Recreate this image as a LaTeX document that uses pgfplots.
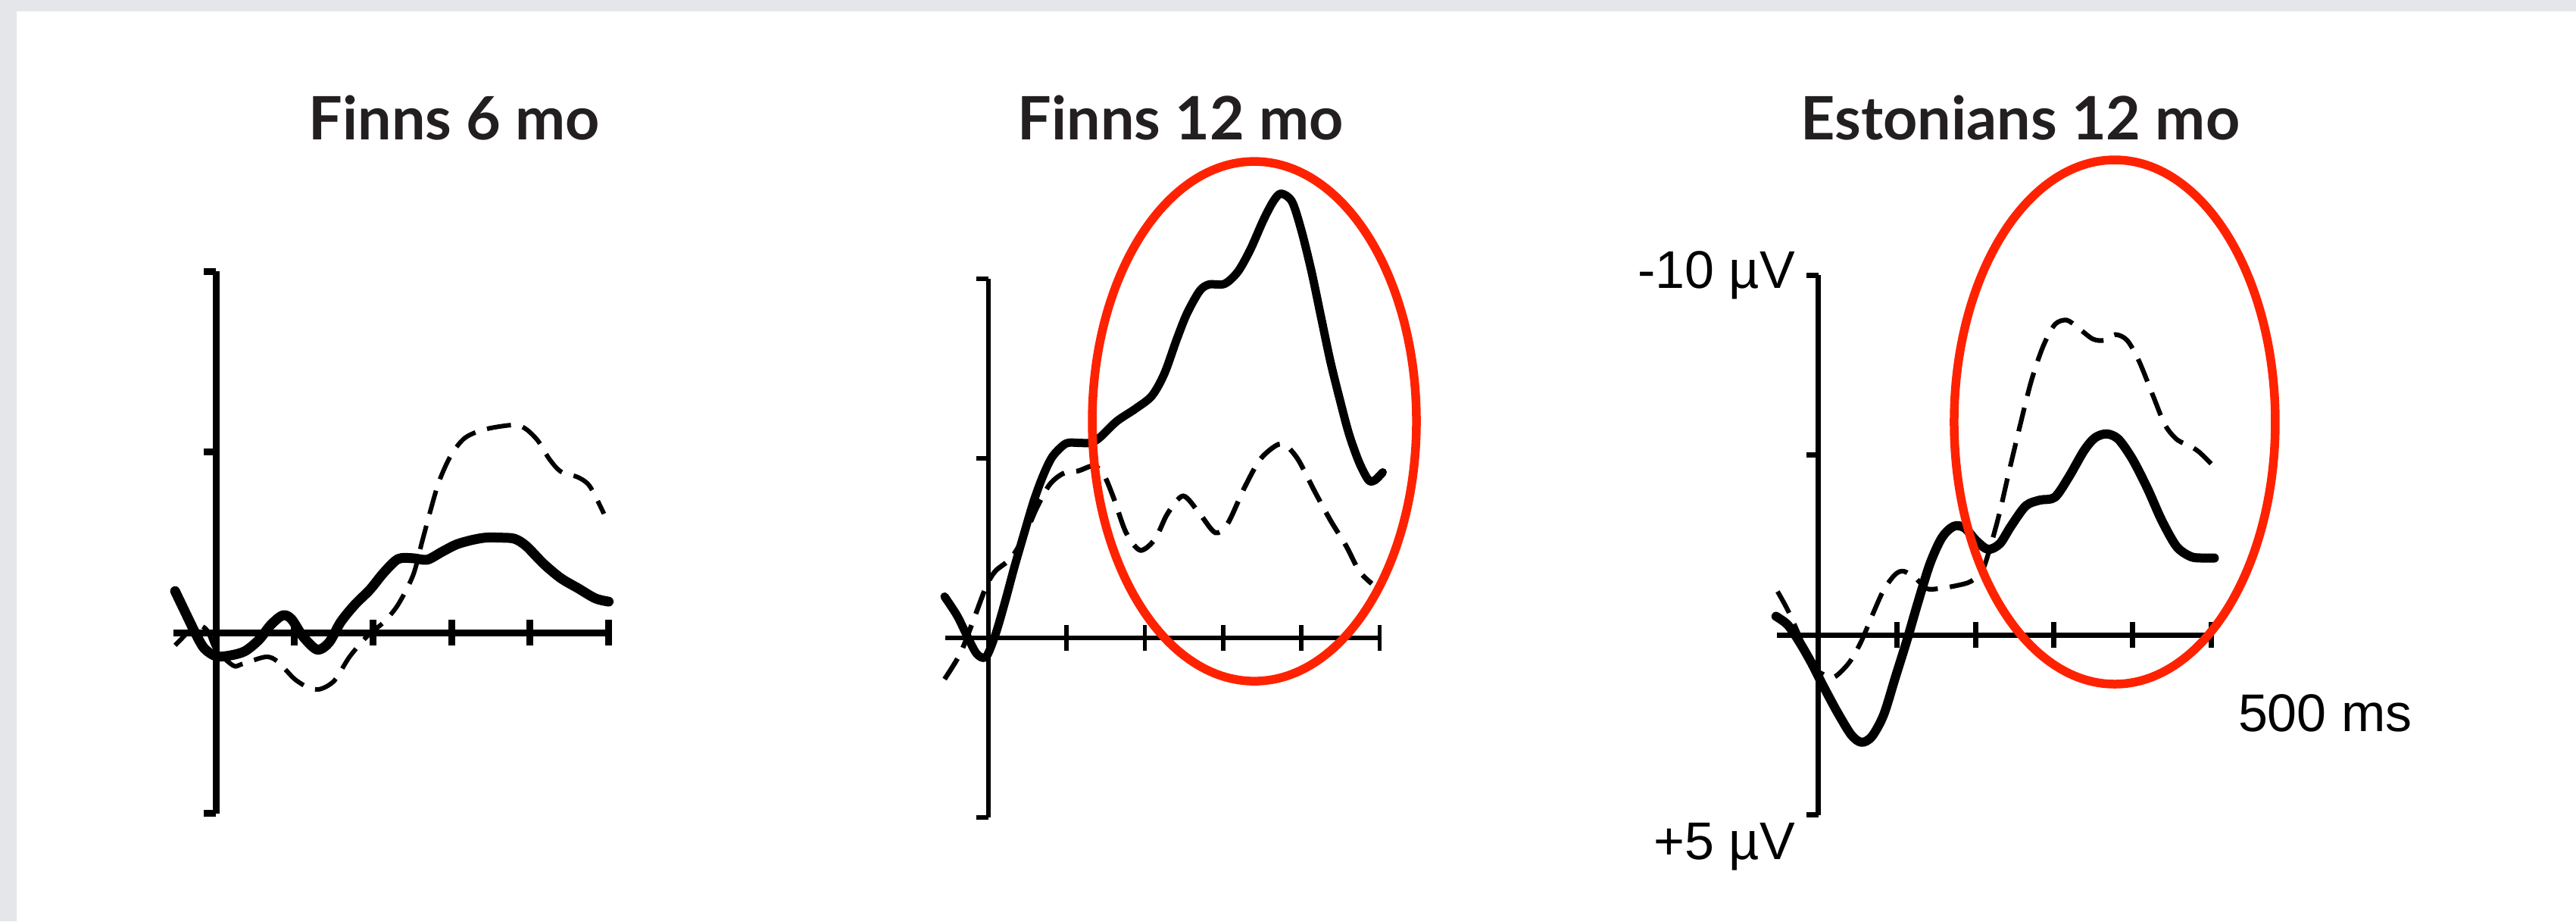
\documentclass[border=0pt]{standalone}
\usepackage{fontspec}
\setmainfont{Liberation Sans}
\newfontfamily\titlefont{Lato}
\usepackage{pgfplots}
\pgfplotsset{compat=1.18}
\usepackage{pgfplotstable}

\definecolor{bggray}{HTML}{E4E6E9}
\definecolor{ringred}{HTML}{FF2200}
\definecolor{titlecol}{HTML}{231F20}

% values: x = ms, y = amplitude in microvolt, negativity plotted upwards
\pgfplotstableread{
x y
-52 1.15
-35 0.38
-26 -0.02
-15 -0.43
0 -0.65
18 -0.63
37 -0.51
55 -0.19
70 0.22
85 0.48
96 0.38
111 -0.11
129 -0.47
144 -0.27
159 0.30
177 0.78
196 1.19
214 1.67
232 2.04
251 2.06
269 2.02
288 2.24
306 2.44
325 2.56
343 2.63
362 2.63
380 2.60
395 2.40
417 1.91
439 1.51
461 1.23
483 0.95
500 0.86
}\solidA
\pgfplotstableread{
x y
-52 -0.35
-37 -0.02
-24 0.22
-11 0.06
0 -0.47
22 -0.91
33 -0.87
63 -0.67
78 -0.79
100 -1.28
118 -1.52
133 -1.56
151 -1.32
170 -0.67
192 -0.11
214 0.30
232 0.78
251 1.59
262 2.48
273 3.37
284 4.18
299 4.90
317 5.39
343 5.63
380 5.75
395 5.63
410 5.31
424 4.82
439 4.46
461 4.30
476 4.05
494 3.29
}\dashA
\pgfplotstableread{
x y
-56 1.15
-40 0.62
-28 0.09
-15 -0.44
-3 -0.53
9 0.09
21 0.98
33 1.95
46 2.93
58 3.81
70 4.52
82 5.05
99 5.41
115 5.43
131 5.43
143 5.59
164 6.03
188 6.38
209 6.74
225 7.36
241 8.33
254 9.04
270 9.66
282 9.84
302 9.86
319 10.20
335 10.82
351 11.61
364 12.15
374 12.37
388 12.15
400 11.35
413 10.20
425 8.95
437 7.71
449 6.65
461 5.67
474 4.88
486 4.39
494 4.39
504 4.61
}\solidB
\pgfplotstableread{
x y
-56 -1.15
-36 -0.44
-20 0.44
-3 1.42
9 1.86
29 2.22
46 2.84
62 3.63
78 4.26
95 4.57
115 4.65
135 4.79
148 4.52
160 3.90
176 2.93
194 2.44
213 2.75
229 3.46
249 3.95
270 3.46
290 2.93
306 3.19
327 4.17
347 4.96
368 5.36
380 5.36
396 4.96
417 4.08
437 3.28
457 2.57
474 1.86
490 1.51
}\dashB
\pgfplotstableread{
x y
-54 0.52
-39 0.28
-24 -0.20
-9 -0.77
6 -1.41
24 -2.14
42 -2.78
55 -2.98
68 -2.82
83 -2.22
98 -1.17
113 -0.12
127 0.93
142 1.98
157 2.70
172 3.02
186 2.98
201 2.62
216 2.38
231 2.54
245 3.02
264 3.59
282 3.75
301 3.83
319 4.40
338 5.12
352 5.48
367 5.59
382 5.44
400 4.88
419 4.07
437 3.19
456 2.46
474 2.18
489 2.14
504 2.14
}\solidC
\pgfplotstableread{
x y
-52 1.21
-39 0.69
-24 -0.04
-9 -0.85
6 -1.09
20 -1.17
39 -0.77
54 -0.20
68 0.52
83 1.25
98 1.69
109 1.77
124 1.57
138 1.29
153 1.29
175 1.37
194 1.49
209 1.81
220 2.54
231 3.43
242 4.48
257 5.85
271 7.06
286 8.02
301 8.63
316 8.75
330 8.55
349 8.23
364 8.19
378 8.35
393 8.19
408 7.62
426 6.65
441 5.85
456 5.44
474 5.24
485 5.08
500 4.76
}\dashC

\pgfplotsset{
  erp/.style={
    scale only axis, anchor=origin,
    axis lines=middle, axis line style={-, line cap=butt},
    ymin=-5, ymax=10, xmax=500, enlargelimits=false, clip=false,
    xtick={100,200,300,400,500}, ytick={-5,5,10},
    xticklabels={}, yticklabels={},
    xtick align=center, ytick align=outside,
    x tick style={/pgfplots/major tick length=3.4pt},
    y tick style={/pgfplots/major tick length=1.6pt},
    tick style={black},
  },
  solidcurve/.style={black, smooth, line cap=round, line join=round},
  dashcurve/.style={black, smooth, dash pattern=on 3.2pt off 1.6pt},
}

\begin{document}
\begin{tikzpicture}
\fill[bggray] (0,0) rectangle (340.1pt,121.6pt);
\fill[white] (2.2pt,0) rectangle (340.1pt,120.1pt);

% Finns 6 mo
\begin{axis}[erp, at={(28.51pt,38.09pt)}, xmin=-54, width=57.45pt, height=71.55pt,
  axis line style={line width=0.9pt}, tick style={line width=0.9pt}]
\addplot[dashcurve, line width=0.6pt] table {\dashA};
\addplot[solidcurve, line width=1.3pt] table {\solidA};
\end{axis}

% Finns 12 mo
\begin{axis}[erp, at={(130.49pt,37.41pt)}, xmin=-55, width=57.33pt, height=71.1pt,
  axis line style={line width=0.55pt}, tick style={line width=0.55pt}]
\addplot[dashcurve, line width=0.65pt] table {\dashB};
\addplot[solidcurve, line width=1.1pt] table {\solidB};
\draw[ringred, line width=1.15pt] (axis cs:339.9,6.03) ellipse [x radius=21.4pt, y radius=34.3pt];
\end{axis}

% Estonians 12 mo
\begin{axis}[erp, at={(240.08pt,37.78pt)}, xmin=-53, width=57.35pt, height=71.25pt,
  axis line style={line width=0.7pt}, tick style={line width=0.7pt}]
\addplot[dashcurve, line width=0.62pt] table {\dashC};
\addplot[solidcurve, line width=1.2pt] table {\solidC};
\draw[ringred, line width=1.15pt] (axis cs:377.2,5.92) ellipse [x radius=21.2pt, y radius=34.6pt];
\end{axis}

\begin{scope}[every node/.style={inner sep=0pt, outer sep=0pt}]
\node[anchor=base, text=titlecol] at (60.0pt,103.14pt) {\titlefont\bfseries\fontsize{7.9}{9}\selectfont Finns 6 mo};
\node[anchor=base, text=titlecol] at (155.9pt,103.14pt) {\titlefont\bfseries\fontsize{7.9}{9}\selectfont Finns 12 mo};
\node[anchor=base, text=titlecol] at (266.75pt,103.14pt) {\titlefont\bfseries\fontsize{7.9}{9}\selectfont Estonians 12 mo};
\node[anchor=base east] at (237.0pt,83.6pt) {\fontsize{7}{8}\selectfont -10 µV};
\node[anchor=base east] at (237.0pt,8.2pt) {\fontsize{7}{8}\selectfont +5 µV};
\node[anchor=base west] at (295.5pt,25.05pt) {\fontsize{7}{8}\selectfont 500 ms};
\end{scope}

\pgfresetboundingbox
\path[use as bounding box] (0,0) rectangle (340.1pt,121.6pt);
\end{tikzpicture}
\end{document}
